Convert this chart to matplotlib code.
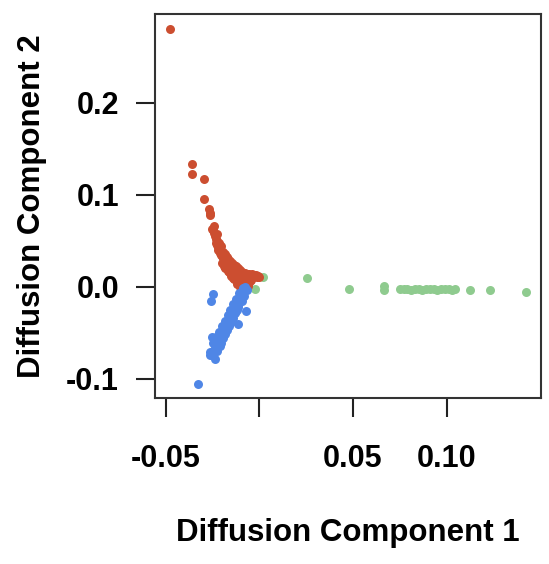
import matplotlib
matplotlib.use("Agg")
import matplotlib.pyplot as plt

# ---- data ----
red_x = [-0.0477, -0.0361, -0.0358, -0.0294, -0.0297, -0.0269, -0.0266, -0.0262,
         -0.0254, -0.0245, -0.0240, -0.0237, -0.0233, -0.0228, -0.0231, -0.0224,
         -0.0219, -0.0221, -0.0213, -0.0210, -0.0205, -0.0200, -0.0196, -0.0190,
         -0.0185, -0.0180, -0.0175, -0.0170, -0.0166, -0.0160, -0.0155, -0.0150,
         -0.0145, -0.0140, -0.0135, -0.0128, -0.0122, -0.0115, -0.0110, -0.0102,
         -0.0095, -0.0088, -0.0080, -0.0072, -0.0065, -0.0055, -0.0045, -0.0035,
         -0.0025, -0.0015, -0.0050, -0.0075, -0.0100, -0.0120, -0.0090, -0.0060,
         -0.0110, -0.0140, -0.0160, -0.0130,
         -0.0240, -0.0225, -0.0215, -0.0205, -0.0195, -0.0185, -0.0175, -0.0165,
         -0.0155, -0.0145, -0.0135, -0.0125, -0.0115, -0.0105, -0.0095, -0.0085,
         -0.0075, -0.0065, -0.0055, -0.0040, -0.0030, -0.0020, -0.0005, 0.0000,
         -0.0170, -0.0150, -0.0130, -0.0120, -0.0100, -0.0085, -0.0070, -0.0105,
         -0.0090, -0.0080, -0.0060, -0.0045, -0.0115, -0.0140, -0.0200, -0.0190,
         -0.0185, -0.0165, -0.0150, -0.0135, -0.0120, -0.0100, -0.0080, -0.0060]
red_y = [0.280, 0.134, 0.123, 0.117, 0.095, 0.085, 0.078, 0.080,
         0.063, 0.062, 0.058, 0.055, 0.052, 0.050, 0.047, 0.045,
         0.043, 0.040, 0.041, 0.037, 0.035, 0.033, 0.031, 0.029,
         0.032, 0.027, 0.025, 0.028, 0.023, 0.021, 0.024, 0.019,
         0.017, 0.021, 0.015, 0.018, 0.013, 0.016, 0.011, 0.014,
         0.010, 0.013, 0.009, 0.012, 0.008, 0.011, 0.013, 0.011,
         0.012, 0.011, 0.006, 0.005, 0.006, 0.008, 0.003, 0.003,
         0.003, 0.012, 0.016, 0.009,
         0.066, 0.057, 0.048, 0.044, 0.038, 0.036, 0.032, 0.030,
         0.028, 0.026, 0.024, 0.022, 0.020, 0.018, 0.016, 0.015,
         0.015, 0.014, 0.014, 0.014, 0.013, 0.013, 0.012, 0.011,
         0.019, 0.014, 0.011, 0.005, 0.009, 0.007, 0.006, 0.000,
         0.001, 0.002, 0.001, 0.007, 0.007, 0.009, 0.026, 0.023,
         0.020, 0.017, 0.012, 0.008, 0.003, 0.004, 0.004, 0.009]

blue_x = [-0.0075, -0.0082, -0.0090, -0.0085, -0.0095, -0.0100, -0.0092, -0.0108,
          -0.0115, -0.0105, -0.0120, -0.0112, -0.0128, -0.0135, -0.0122, -0.0140,
          -0.0132, -0.0148, -0.0155, -0.0142, -0.0160, -0.0150, -0.0168, -0.0175,
          -0.0162, -0.0180, -0.0172, -0.0188, -0.0195, -0.0183, -0.0200, -0.0192,
          -0.0208, -0.0215, -0.0203, -0.0220, -0.0212, -0.0228, -0.0235, -0.0225,
          -0.0245, -0.0255, -0.0262,
          -0.0249, -0.0258, -0.0071, -0.0116, -0.0254, -0.0237, -0.0329, -0.0263,
          -0.0110, -0.0125, -0.0140, -0.0155, -0.0170, -0.0185, -0.0200, -0.0215,
          -0.0230, -0.0245, -0.0065, -0.0080, -0.0095, -0.0112, -0.0128, -0.0145,
          -0.0162, -0.0178, -0.0195, -0.0210, -0.0225, -0.0240]
blue_y = [0.000, -0.002, -0.001, -0.006, -0.005, -0.009, -0.011, -0.012,
          -0.014, -0.016, -0.018, -0.020, -0.021, -0.024, -0.025, -0.027,
          -0.029, -0.031, -0.033, -0.034, -0.036, -0.038, -0.040, -0.042,
          -0.043, -0.045, -0.047, -0.049, -0.051, -0.052, -0.054, -0.056,
          -0.058, -0.060, -0.061, -0.063, -0.065, -0.066, -0.068, -0.070,
          -0.071, -0.073, -0.074,
          -0.008, -0.0156, -0.026, -0.041, -0.055, -0.079, -0.106, -0.071,
          -0.007, -0.013, -0.019, -0.025, -0.031, -0.037, -0.043, -0.049,
          -0.055, -0.061, -0.004, -0.010, -0.016, -0.022, -0.028, -0.034,
          -0.040, -0.046, -0.052, -0.058, -0.064, -0.069]

green_x = [0.0018, -0.0023, 0.0256, 0.048, 0.0667, 0.0667,
           0.075, 0.077, 0.079, 0.081, 0.083, 0.085, 0.087, 0.089, 0.091,
           0.093, 0.095, 0.097, 0.099, 0.101, 0.103, 0.1044,
           0.1124, 0.1231, 0.1423]
green_y = [0.011, -0.002, 0.009, -0.002, 0.001, -0.0035,
           -0.002, -0.003, -0.002, -0.004, -0.003, -0.002, -0.004, -0.003, -0.002,
           -0.003, -0.004, -0.002, -0.003, -0.003, -0.004, -0.002,
           -0.004, -0.004, -0.006]

x_ticks = [-0.05, 0.0, 0.05, 0.10]
x_tick_labels = ["-0.05", "", "0.05", "0.10"]
y_ticks = [-0.1, 0.0, 0.1, 0.2]
y_tick_labels = ["-0.1", "0.0", "0.1", "0.2"]

plt.rcParams['font.family'] = ['Liberation Sans', 'DejaVu Sans']

fig = plt.figure(figsize=(5.49, 5.64), dpi=100)
ax = fig.add_axes([155 / 549, 1 - 398 / 564, (541 - 155) / 549, (398 - 14) / 564])

ax.scatter(green_x, green_y, s=42, color="#8FCB8F", linewidths=0, zorder=2)
ax.scatter(red_x, red_y, s=42, color="#CC4E30", linewidths=0, zorder=3)
ax.scatter(blue_x, blue_y, s=42, color="#4F86E6", linewidths=0, zorder=3)

ax.set_xlim(-0.0557, 0.1503)
ax.set_ylim(-0.1211, 0.2967)

ax.set_xticks(x_ticks)
ax.set_xticklabels(x_tick_labels, fontsize=22, fontweight="bold")
ax.set_yticks(y_ticks)
ax.set_yticklabels(y_tick_labels, fontsize=22, fontweight="bold")
ax.tick_params(axis="both", direction="out", length=14, width=1.5, color="#222222")
ax.tick_params(axis="x", pad=19)
ax.tick_params(axis="y", pad=12)

for sp in ax.spines.values():
    sp.set_linewidth(1.5)
    sp.set_color("#333333")

ax.set_xlabel("Diffusion Component 1", fontsize=22.5, fontweight="bold", labelpad=32)
ax.set_ylabel("Diffusion Component 2", fontsize=22.5, fontweight="bold", labelpad=14)

fig.savefig("out.png", dpi=100)
